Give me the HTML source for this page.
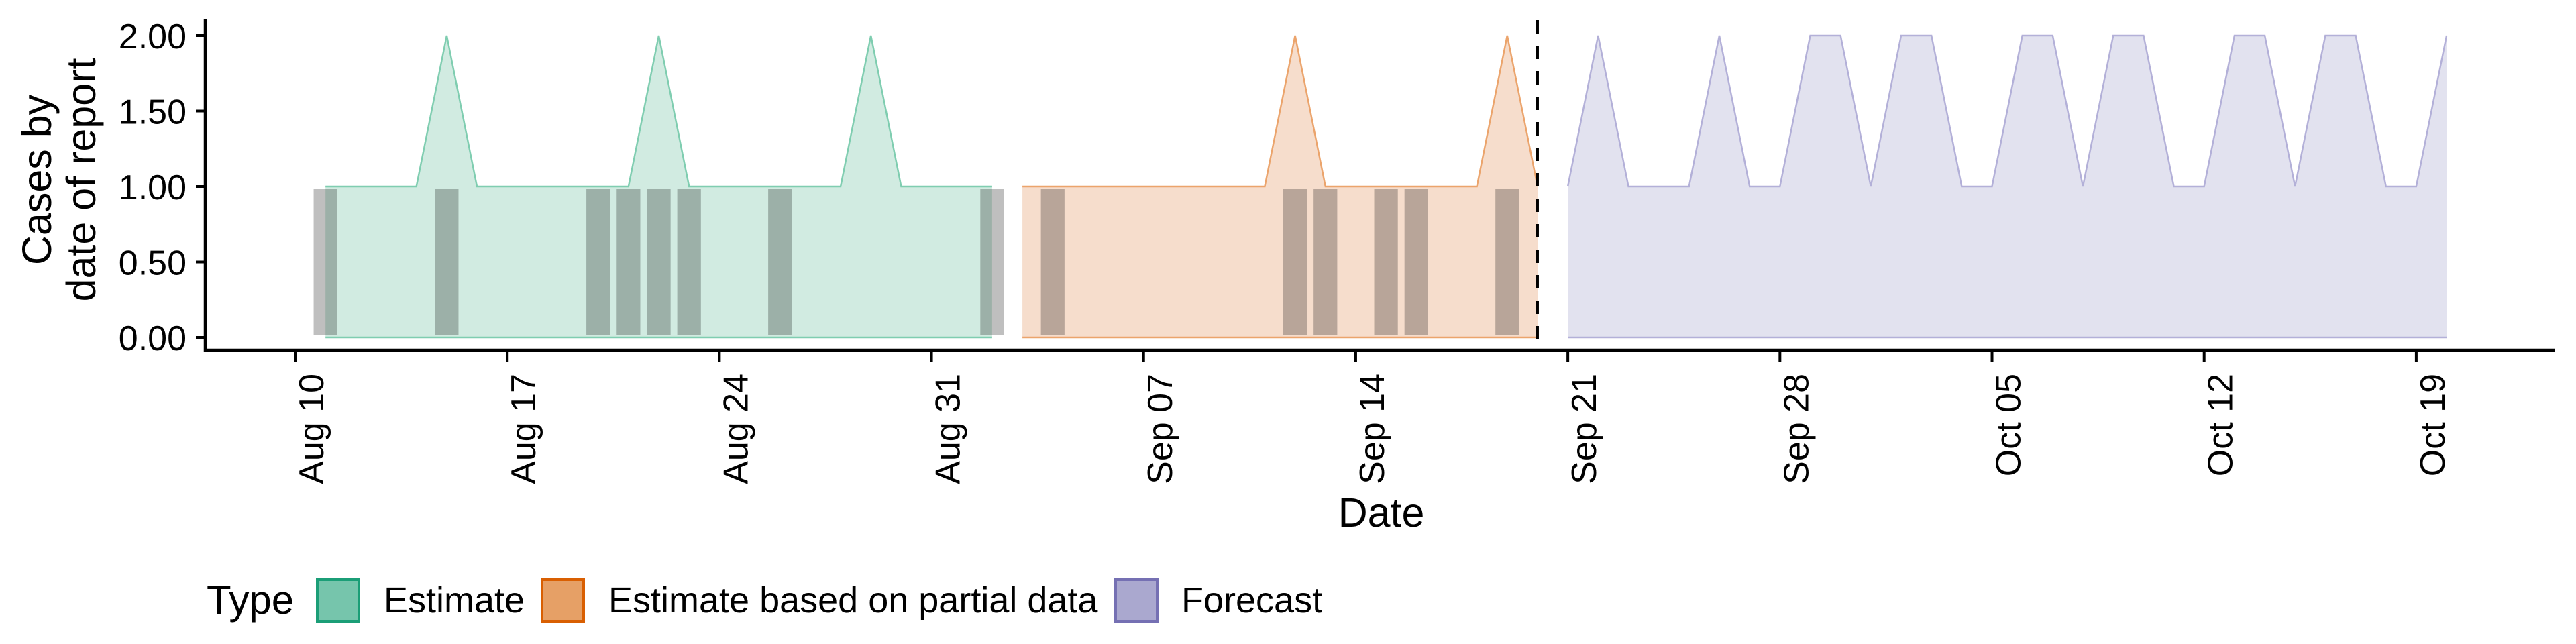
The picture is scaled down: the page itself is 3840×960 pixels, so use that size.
<!DOCTYPE html>
<html><head><meta charset="utf-8"><style>
html,body{margin:0;padding:0;background:#fff;}
svg{display:block;font-family:"Liberation Sans",Arial,sans-serif;}
</style></head><body>
<svg id="chart" width="3840" height="960" viewBox="0 0 3840 960" xmlns="http://www.w3.org/2000/svg">
<g id="plot"></g>
<g id="axes"></g>
<text transform="translate(76,268) rotate(-90)" text-anchor="middle" font-size="61"><tspan x="0" y="0">Cases by</tspan><tspan x="0" y="66">date of report</tspan></text>
<text x="2059" y="785" text-anchor="middle" font-size="61">Date</text>
<g>
<text x="308" y="915" font-size="60">Type</text>
<g><rect x="473" y="864" width="62" height="62" fill="#76c5ac" stroke="#1b9e77" stroke-width="4"/><text x="572" y="913" font-size="54">Estimate</text></g>
<g><rect x="808" y="864" width="62" height="62" fill="#e6a066" stroke="#d95f02" stroke-width="4"/><text x="907" y="913" font-size="54">Estimate based on partial data</text></g>
<g><rect x="1663" y="864" width="62" height="62" fill="#aaa8cf" stroke="#7570b3" stroke-width="4"/><text x="1761" y="913" font-size="54">Forecast</text></g>
</g>
</svg>
<script>
const estimateDays = [1,2,3,4,5,6,7,8,9,10,11,12,13,14,15,16,17,18,19,20,21,22,23];
const estimateValues = [1,1,1,1,2,1,1,1,1,1,1,2,1,1,1,1,1,1,2,1,1,1,1];
const partialDays = [24,25,26,27,28,29,30,31,32,33,34,35,36,37,38,39,40,41];
const partialValues = [1,1,1,1,1,1,1,1,1,2,1,1,1,1,1,1,2,1];
const forecastDays = [42,43,44,45,46,47,48,49,50,51,52,53,54,55,56,57,58,59,60,61,62,63,64,65,66,67,68,69,70,71];
const forecastValues = [1,2,1,1,1,2,1,1,2,2,1,2,2,1,1,2,2,1,2,2,1,1,2,2,1,2,2,1,1,2];
const barDays = [1,5,10,11,12,13,16,23,25,33,34,36,37,40];
const barValues = [1,1,1,1,1,1,1,1,1,1,1,1,1,1];
const yTicks = [0,0.5,1,1.5,2];
const yTickLabels = ["0.00","0.50","1.00","1.50","2.00"];
const xTickDays = [0,7,14,21,28,35,42,49,56,63,70];
const xTickLabels = ["Aug 10","Aug 17","Aug 24","Aug 31","Sep 07","Sep 14","Sep 21","Sep 28","Oct 05","Oct 12","Oct 19"];
const forecastStartDay = 41;

const NS = "http://www.w3.org/2000/svg";
function xs(d){ return 440 + d * 45.17; }
function ys(v){ return 503 - v * 225; }
function mk(tag, attrs, parent){ const e = document.createElementNS(NS, tag); for (const k in attrs) e.setAttribute(k, attrs[k]); parent.appendChild(e); return e; }
const plot = document.getElementById('plot');
const axes = document.getElementById('axes');

function drawArea(days, vals, fill, line, name){
  let top = days.map((d,i)=>xs(d).toFixed(1)+','+ys(vals[i]).toFixed(1));
  let pts = top.concat([xs(days[days.length-1]).toFixed(1)+','+ys(0), xs(days[0]).toFixed(1)+','+ys(0)]);
  const p = mk('polygon', {points: pts.join(' '), fill: fill}, plot);
  
  
  const l = mk('polyline', {points: top.join(' '), fill: 'none', stroke: line, 'stroke-width': 2.5}, plot);
  
  
  const b = mk('line', {x1: xs(days[0]), x2: xs(days[days.length-1]), y1: ys(0), y2: ys(0), stroke: line, 'stroke-width': 2.5}, plot);
  
  
}
drawArea(estimateDays, estimateValues, '#d1ebe1', '#7fcdb0', 'estimate');
drawArea(partialDays, partialValues, '#f6ddcc', '#eba46c', 'partial');
drawArea(forecastDays, forecastValues, '#e2e2ef', '#b3b0d8', 'forecast');

barDays.forEach((d,i)=>{
  const w = 45.17 * 0.78;
  const top = ys(barValues[i] * 0.985), bot = ys(0.015);
  const r = mk('rect', {x: xs(d) - w/2, y: top, width: w, height: bot - top, fill: 'rgba(0,0,0,0.25)'}, plot);
  
  
});

const dl = mk('line', {x1: xs(forecastStartDay), x2: xs(forecastStartDay), y1: 30, y2: 522, stroke: '#000', 'stroke-width': 4, 'stroke-dasharray': '20 18'}, axes);



const ya = mk('line', {x1: 306, x2: 306, y1: 28, y2: 524, stroke: '#000', 'stroke-width': 4.5}, axes);


const xa = mk('line', {x1: 304, x2: 3808, y1: 522, y2: 522, stroke: '#000', 'stroke-width': 4.5}, axes);



yTicks.forEach((v,i)=>{
  const t = mk('line', {x1: 292, x2: 306, y1: ys(v), y2: ys(v), stroke: '#000', 'stroke-width': 4}, axes);
  
  
  const tx = mk('text', {x: 278, y: ys(v) + 19, 'text-anchor': 'end', 'font-size': 52}, axes);
  tx.textContent = yTickLabels[i];
  
  
});
xTickDays.forEach((d,i)=>{
  const x = xs(d);
  const t = mk('line', {x1: x, x2: x, y1: 522, y2: 540, stroke: '#000', 'stroke-width': 4}, axes);
  
  
  const tx = mk('text', {transform: 'translate(' + (x + 42) + ',557) rotate(-90)', 'text-anchor': 'end', 'font-size': 52}, axes);
  tx.textContent = xTickLabels[i];
  
  
});
</script>
</body></html>
